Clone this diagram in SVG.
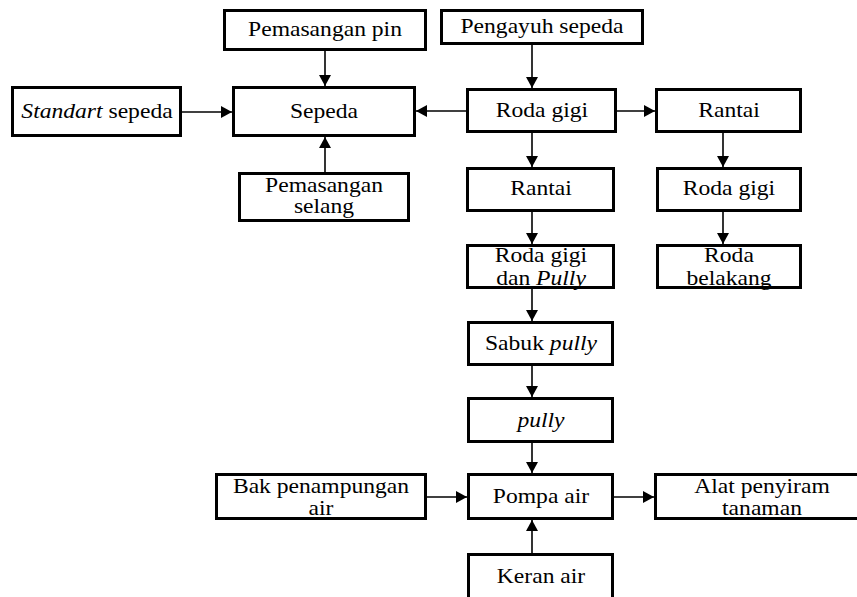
<svg xmlns="http://www.w3.org/2000/svg" width="857" height="597" viewBox="0 0 857 597">
<style>
.box{fill:#fff;stroke:#000;stroke-width:3}
text{font-family:"Liberation Serif","Times New Roman",serif;font-size:20px;fill:#000;text-anchor:middle}
.it{font-style:italic}
.c line{stroke:#000;stroke-width:1.6;marker-end:url(#ah)}
</style>
<defs>
<marker id="ah" markerUnits="userSpaceOnUse" markerWidth="12" markerHeight="12" refX="11" refY="6" orient="auto">
<path d="M0,0 L11,6 L0,12 z" fill="#000"/>
</marker>
</defs>
<rect width="857" height="597" fill="#fff"/>
<g id="connectors" class="c">
<line x1="325" y1="51" x2="325" y2="86"/>
<line x1="182" y1="112" x2="232" y2="112"/>
<line x1="325" y1="172" x2="325" y2="137"/>
<line x1="466" y1="111" x2="416" y2="111"/>
<line x1="532" y1="45" x2="532" y2="88"/>
<line x1="617" y1="111" x2="655" y2="111"/>
<line x1="532" y1="133" x2="532" y2="167"/>
<line x1="723" y1="133" x2="723" y2="167"/>
<line x1="532" y1="212" x2="532" y2="244"/>
<line x1="723" y1="212" x2="723" y2="244"/>
<line x1="532" y1="289" x2="532" y2="321"/>
<line x1="532" y1="366" x2="532" y2="397"/>
<line x1="532" y1="443" x2="532" y2="473"/>
<line x1="427" y1="497" x2="467" y2="497"/>
<line x1="614" y1="497" x2="654" y2="497"/>
<line x1="532" y1="553" x2="532" y2="520"/>
</g>
<g id="pemasangan-pin"><rect class="box" x="224.5" y="10.5" width="201" height="39"/><text transform="translate(325,36) scale(1.18,1)">Pemasangan pin</text></g>
<g id="standart-sepeda"><rect class="box" x="12.5" y="87.5" width="168" height="48"/><text transform="translate(97,118) scale(1.18,1)"><tspan class="it">Standart</tspan> sepeda</text></g>
<g id="sepeda"><rect class="box" x="233.5" y="87.5" width="181" height="48"/><text transform="translate(324,118) scale(1.18,1)">Sepeda</text></g>
<g id="pemasangan-selang"><rect class="box" x="239.5" y="173.5" width="169" height="47"/><text transform="translate(324,0) scale(1.18,1)"><tspan x="0" y="192">Pemasangan</tspan><tspan x="0" y="213">selang</tspan></text></g>
<g id="pengayuh-sepeda"><rect class="box" x="441.5" y="10.5" width="201" height="33"/><text transform="translate(542,33) scale(1.18,1)">Pengayuh sepeda</text></g>
<g id="roda-gigi-1"><rect class="box" x="467.5" y="89.5" width="148" height="42"/><text transform="translate(542,117) scale(1.18,1)">Roda gigi</text></g>
<g id="rantai-2"><rect class="box" x="656.5" y="89.5" width="144" height="42"/><text transform="translate(729,117) scale(1.18,1)">Rantai</text></g>
<g id="rantai-1"><rect class="box" x="467.5" y="168.5" width="146" height="42"/><text transform="translate(541,195) scale(1.18,1)">Rantai</text></g>
<g id="roda-gigi-2"><rect class="box" x="657.5" y="168.5" width="143" height="42"/><text transform="translate(729,195) scale(1.18,1)">Roda gigi</text></g>
<g id="roda-gigi-pully"><rect class="box" x="467.5" y="245.5" width="146" height="42"/><text transform="translate(541,0) scale(1.18,1)"><tspan x="0" y="262">Roda gigi</tspan><tspan x="0" y="285">dan <tspan class="it">Pully</tspan></tspan></text></g>
<g id="roda-belakang"><rect class="box" x="657.5" y="245.5" width="143" height="42"/><text transform="translate(729,0) scale(1.18,1)"><tspan x="0" y="262">Roda</tspan><tspan x="0" y="285">belakang</tspan></text></g>
<g id="sabuk-pully"><rect class="box" x="468.5" y="322.5" width="144" height="42"/><text transform="translate(541,350) scale(1.18,1)">Sabuk <tspan class="it">pully</tspan></text></g>
<g id="pully"><rect class="box" x="468.5" y="398.5" width="144" height="43"/><text class="it" transform="translate(541,427) scale(1.18,1)">pully</text></g>
<g id="pompa-air"><rect class="box" x="468.5" y="474.5" width="144" height="44"/><text transform="translate(541,503) scale(1.18,1)">Pompa air</text></g>
<g id="bak-penampungan"><rect class="box" x="216.5" y="474.5" width="209" height="44"/><text transform="translate(321,0) scale(1.18,1)"><tspan x="0" y="493">Bak penampungan</tspan><tspan x="0" y="515">air</tspan></text></g>
<g id="alat-penyiram"><rect class="box" x="655.5" y="474.5" width="210" height="44"/><text transform="translate(762,0) scale(1.18,1)"><tspan x="0" y="493">Alat penyiram</tspan><tspan x="0" y="515">tanaman</tspan></text></g>
<g id="keran-air"><rect class="box" x="468.5" y="554.5" width="144" height="50"/><text transform="translate(541,583) scale(1.18,1)">Keran air</text></g>
</svg>
